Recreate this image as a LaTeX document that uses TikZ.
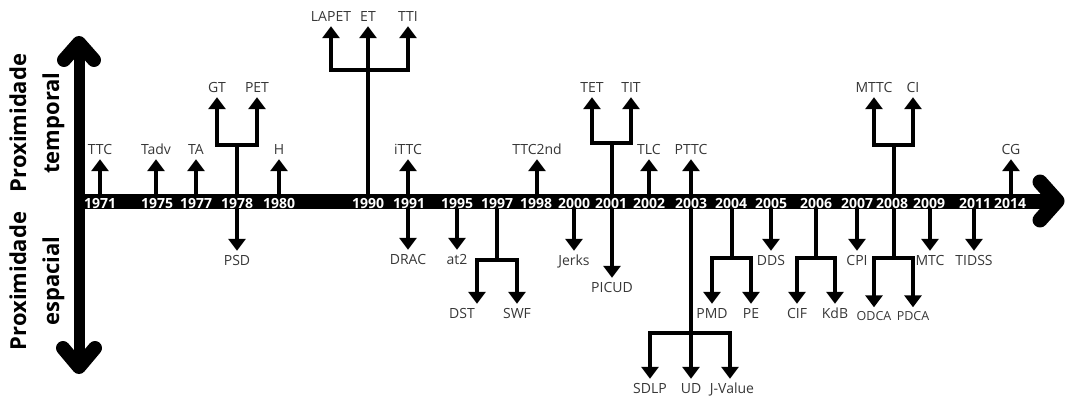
\documentclass[tikz,border=0pt]{standalone}
\usepackage{fontspec}
\setmainfont{Open Sans}
\usetikzlibrary{arrows.meta,calc}
\definecolor{labgray}{RGB}{55,55,55}
\begin{document}
\begin{tikzpicture}[x=1pt,y=-1pt,
  stem/.style={line width=3.5pt},
  arr/.style={stem,-{Triangle[width=17pt,length=12pt]},shorten >=4pt},
  lab/.style={font=\fontsize{14}{14}\selectfont,text=labgray,inner sep=0pt,text height=10pt,text depth=0pt},
  smalllab/.style={lab,font=\fontsize{12.5}{12.5}\selectfont,text height=9pt},
  yr/.style={font=\bfseries\fontsize{14}{14}\selectfont,text=white,inner sep=0pt,text height=10pt,text depth=0pt},
  axisline/.style={line width=#1,line cap=round,line join=round},
  side/.style={rotate=90,align=center,font=\bfseries\fontsize{22}{33}\selectfont,inner sep=0pt}
]
\useasboundingbox (0,0) rectangle (1067,398);
\coordinate (axis) at (0,201);

% ---- up, single
\node[lab] (ttc)   at (100,150) {TTC};
\node[lab] (tadv)  at (156,150) {Tadv};
\node[lab] (ta)    at (196,150) {TA};
\node[lab] (h)     at (279,150) {H};
\node[lab] (ittc)  at (408,150) {iTTC};
\node[lab] (ttc2)  at (537,150) {TTC2nd};
\node[lab] (tlc)   at (649,150) {TLC};
\node[lab] (pttc)  at (691,150) {PTTC};
\node[lab] (cg)    at (1011,150) {CG};
\foreach \n in {ttc,tadv,ta,h,ittc,ttc2,tlc,pttc,cg}
  \draw[arr] (\n |- axis) -- (\n.south);

% ---- up, branches
\node[lab] (gt)   at (217,88) {GT};
\node[lab] (pet)  at (257,88) {PET};
\coordinate (j78u) at (237,145);
\node[lab] (tet)  at (592,88) {TET};
\node[lab] (tit)  at (631,88) {TIT};
\coordinate (j01u) at (612,143);
\node[lab] (mttc) at (874,88) {MTTC};
\node[lab] (ci)   at (913,88) {CI};
\coordinate (j08u) at (894,145);
\node[lab] (lapet) at (331,17) {LAPET};
\node[lab] (et)    at (368,17) {ET};
\node[lab] (tti)   at (408,17) {TTI};
\coordinate (j90u) at (368,70);

\draw[stem] (j78u |- axis) -- (j78u);
\draw[arr] (j78u) -| (gt.south);
\draw[arr] (j78u) -| (pet.south);
\draw[stem] (j01u |- axis) -- (j01u);
\draw[arr] (j01u) -| (tet.south);
\draw[arr] (j01u) -| (tit.south);
\draw[stem] (j08u |- axis) -- (j08u);
\draw[arr] (j08u) -| (mttc.south);
\draw[arr] (j08u) -| (ci.south);
\draw[arr] (et |- axis) -- (et.south);
\draw[arr] (j90u) -| (lapet.south);
\draw[arr] (j90u) -| (tti.south);

% ---- down, single
\node[lab] (psd)   at (237,260) {PSD};
\node[lab] (drac)  at (408,259) {DRAC};
\node[lab] (at2)   at (457,259) {at2};
\node[lab] (jerks) at (574,260) {Jerks};
\node[lab] (picud) at (612,287) {PICUD};
\node[lab] (dds)   at (771,260) {DDS};
\node[lab] (cpi)   at (857,260) {CPI};
\node[lab] (mtc)   at (930,260) {MTC};
\node[lab] (tidss) at (974,260) {TIDSS};
\foreach \n in {psd,drac,at2,jerks,picud,dds,cpi,mtc,tidss}
  \draw[arr] (\n |- axis) -- (\n.north);

% ---- down, branches
\coordinate (j97d) at (497,260);
\node[lab] (dst) at (462,313) {DST};
\node[lab] (swf) at (517,313) {SWF};
\draw[stem] (j97d |- axis) -- (j97d);
\draw[arr] (j97d) -| ([xshift=15pt]dst.north);
\draw[arr] (j97d) -| (swf.north);

\coordinate (j04d) at (732,258);
\node[lab] (pmd) at (712,313) {PMD};
\node[lab] (pe)  at (751,313) {PE};
\draw[stem] (j04d |- axis) -- (j04d);
\draw[arr] (j04d) -| (pmd.north);
\draw[arr] (j04d) -| (pe.north);

\coordinate (j06d) at (816,258);
\node[lab] (cif) at (797,313) {CIF};
\node[lab] (kdb) at (835,313) {KdB};
\draw[stem] (j06d |- axis) -- (j06d);
\draw[arr] (j06d) -| (cif.north);
\draw[arr] (j06d) -| (kdb.north);

\coordinate (j08d) at (894,258);
\node[smalllab] (odca) at (874,316) {ODCA};
\node[smalllab] (pdca) at (913,316) {PDCA};
\draw[stem] (j08d |- axis) -- (j08d);
\draw[arr] (j08d) -| (odca.north);
\draw[arr] (j08d) -| (pdca.north);

\coordinate (j03d) at (691,333);
\node[lab] (sdlp) at (650,388) {SDLP};
\node[lab] (ud)   at (691,388) {UD};
\node[lab] (jval) at (732,388) {J-Value};
\draw[stem] (pttc |- axis) -- (j03d);
\draw[arr] (j03d) -| (sdlp.north);
\draw[arr] (j03d) -- (ud.north);
\draw[arr] (j03d) -| ([xshift=-2pt]jval.north);

% ---- axes
\draw[line width=15pt] (79,201) -- (1050,201);
\draw[axisline=15pt] (1040,182) -- (1057,201) -- (1040,220);
\draw[line width=11pt] (79,45) -- (79,365);
\draw[axisline=14pt] (64,60) -- (79,43) -- (94,60);
\draw[axisline=14pt] (63,348) -- (79,367) -- (95,348);

% ---- years
\foreach \yx/\yy in {100/1971,157/1975,196/1977,237/1978,279/1980,368/1990,409/1991,457/1995,497/1997,536/1998,574/2000,611/2001,649/2002,691/2003,731/2004,771/2005,816/2006,857/2007,892/2008,929/2009,975/2011,1010/2014}
  \node[yr] (y\yy) at (\yx,203) {\yy};

% ---- side labels
\node[side] (temporal) at (37,123) {Proximidade\\temporal};
\node[side] (espacial) at (37,281) {Proximidade\\espacial};
\end{tikzpicture}
\end{document}
